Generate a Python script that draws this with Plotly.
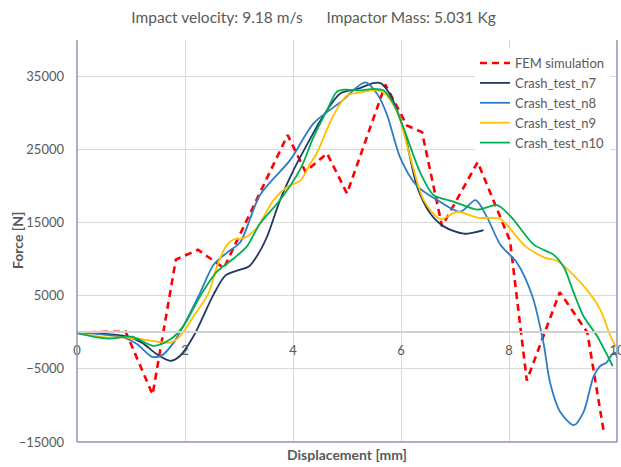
import plotly.graph_objects as go

# ---- data ----
fem_x = [0, 0.5, 0.9, 1.40, 1.83, 2.24, 2.72, 3.90, 4.23, 4.63, 5.00, 5.71, 6.11, 6.39, 6.76, 7.42, 8.02, 8.33, 8.94, 9.45, 9.75]
fem_y = [0, 50, 100, -8500, 9950, 11300, 8800, 27000, 22000, 24500, 19000, 33900, 28300, 27400, 14500, 23300, 12500, -6600, 5500, 0, -13400]

n7_x = [0, 0.5, 0.89, 1.2, 1.48, 1.73, 1.91, 2.16, 2.53, 2.75, 2.96, 3.18, 3.33, 3.52, 3.76, 4.01, 4.32, 4.51, 4.88, 5.19, 5.49, 5.62, 5.80, 6.05, 6.30, 6.54, 6.79, 7.16, 7.53]
n7_y = [0, -200, -500, -1400, -3000, -3900, -3200, -500, 5200, 7800, 8450, 9000, 10400, 13100, 18100, 22200, 26500, 29000, 32700, 33300, 34100, 34100, 32500, 27700, 19900, 16300, 14500, 13500, 14000]

n8_x = [0, 0.5, 0.86, 1.11, 1.39, 1.57, 1.79, 2.0, 2.28, 2.53, 2.81, 3.02, 3.39, 3.95, 4.38, 4.88, 5.34, 5.56, 5.74, 5.99, 6.30, 6.67, 7.10, 7.38, 7.59, 7.84, 8.15, 8.43, 8.64, 8.76, 8.95, 9.2, 9.38, 9.57, 9.69, 9.81, 9.91, 9.97, 10.0]
n8_y = [0, -300, -700, -1600, -3350, -3150, -1400, 1300, 5400, 9250, 11100, 12300, 18800, 23600, 28600, 31500, 34200, 32600, 29800, 23800, 20000, 18100, 16500, 18100, 15800, 12000, 9500, 5000, -1500, -6850, -10900, -12700, -10900, -5950, -4600, -4100, -3000, -2800, -3500]

n9_x = [0, 0.56, 0.93, 1.42, 1.73, 1.91, 2.16, 2.44, 2.59, 2.78, 2.90, 3.09, 3.33, 3.64, 3.89, 4.14, 4.32, 4.44, 4.75, 5.0, 5.31, 5.49, 5.68, 5.93, 6.17, 6.42, 6.73, 7.04, 7.41, 7.84, 8.02, 8.30, 8.67, 8.89, 9.20, 9.51, 9.69, 9.88, 9.98]
n9_y = [-100, -700, -700, -1200, -1400, -500, 2200, 5400, 9000, 12000, 12700, 12900, 14300, 18100, 19900, 20800, 23100, 24500, 29700, 32400, 32900, 33100, 32800, 30200, 24000, 18100, 15500, 16500, 15700, 15500, 14200, 11800, 10200, 9800, 7800, 5200, 3100, -500, -2000]

n10_x = [0, 0.56, 1.02, 1.42, 1.73, 1.97, 2.28, 2.59, 2.90, 3.15, 3.39, 3.76, 4.14, 4.38, 4.63, 4.81, 4.94, 5.25, 5.49, 5.68, 5.86, 6.05, 6.36, 6.60, 6.97, 7.41, 7.78, 8.05, 8.46, 8.83, 9.01, 9.20, 9.38, 9.63, 9.92]
n10_y = [-100, -850, -600, -1850, -950, 850, 4950, 8300, 10100, 11800, 14900, 18100, 22400, 26700, 30400, 32900, 33200, 33100, 33300, 33100, 31300, 27900, 21800, 18800, 17900, 16800, 17400, 15700, 12000, 10600, 9000, 5400, 2200, -500, -4600]

x_ticks = [0, 2, 4, 6, 8, 10]
y_ticks = [-15000, -5000, 5000, 15000, 25000, 35000]

series = [
    ("FEM simulation", fem_x, fem_y, "#FF0000", "dash"),
    ("Crash_test_n7", n7_x, n7_y, "#1F3864", "solid"),
    ("Crash_test_n8", n8_x, n8_y, "#2E7CC4", "solid"),
    ("Crash_test_n9", n9_x, n9_y, "#FFC000", "solid"),
    ("Crash_test_n10", n10_x, n10_y, "#00B050", "solid"),
]

FONT = "Lato, 'Open Sans', sans-serif"
GRAY = "#595959"
FRAME = "#8C95B5"

fig = go.Figure()
for name, xs, ys, color, style in series:
    if style == "dash":
        line = dict(color=color, width=2.6, dash="7px,5px", shape="linear")
    else:
        line = dict(color=color, width=1.8, shape="spline", smoothing=0.8)
    fig.add_trace(go.Scatter(x=xs, y=ys, mode="lines", name=name, line=line))

fig.update_layout(
    width=621, height=467,
    margin=dict(l=77, r=4, t=40, b=25, autoexpand=False),
    paper_bgcolor="white", plot_bgcolor="white",
    font=dict(family=FONT, color=GRAY, size=13),
    title=dict(text="Impact velocity: 9.18 m/s\u00a0\u00a0\u00a0\u00a0\u00a0\u00a0Impactor Mass: 5.031 Kg",
               x=0.505, xanchor="center", y=1 - 18 / 467, yanchor="middle",
               font=dict(family=FONT, size=15.5, color=GRAY)),
    showlegend=True,
    legend=dict(x=0.737, y=0.98, xanchor="left", yanchor="top",
                bgcolor="white", font=dict(family=FONT, size=13, color=GRAY),
                tracegroupgap=0),
    xaxis=dict(range=[0, 10], tickvals=x_ticks, showgrid=True, gridcolor="#D9D9D9",
               gridwidth=1, zeroline=False, anchor="free", position=15000 / 55000,
               showline=True, linecolor="#D0D0D0", linewidth=2, ticklabeloverflow="allow",
               ticks="", ticklabelstandoff=6, tickfont=dict(size=13, color=GRAY)),
    yaxis=dict(range=[-15000, 40000], tickvals=y_ticks, tickformat="d", showgrid=True,
               gridcolor="#D9D9D9", gridwidth=1, zeroline=False, showline=False, ticks="",
               ticklabelstandoff=12, tickfont=dict(size=13, color=GRAY)),
    annotations=[
        dict(text="<b>Displacement [mm]</b>", xref="paper", yref="paper", x=0.5, y=-0.032,
             xanchor="center", yanchor="middle", showarrow=False,
             font=dict(family=FONT, size=14, color=GRAY)),
        dict(text="<b>Force [N]</b>", xref="paper", yref="paper", x=-60 / 540, y=0.5,
             xanchor="center", yanchor="middle", textangle=-90, showarrow=False,
             font=dict(family=FONT, size=14, color=GRAY)),
    ],
    shapes=[
        dict(type="line", xref="paper", yref="paper", x0=0, x1=0, y0=0, y1=1,
             line=dict(color=FRAME, width=1.5)),
        dict(type="line", xref="paper", yref="paper", x0=1, x1=1, y0=0, y1=1,
             line=dict(color=FRAME, width=1.5)),
        dict(type="line", xref="paper", yref="paper", x0=0, x1=1, y0=0, y1=0,
             line=dict(color=FRAME, width=1.5)),
    ],
)

fig.write_html("out.html",
               config={"displayModeBar": False},
               post_script="document.body.style.margin='0';document.body.style.padding='0';")
